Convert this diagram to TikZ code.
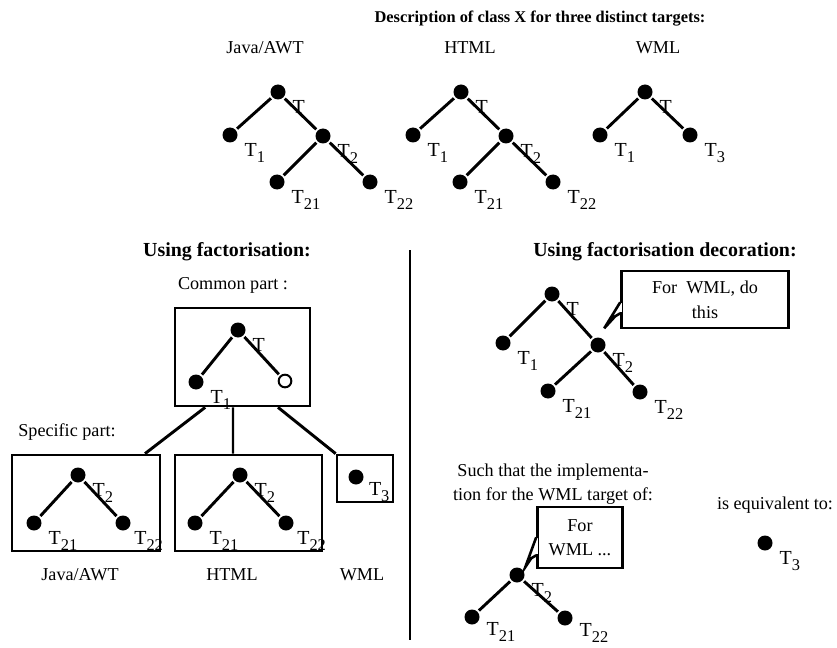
\documentclass[tikz,border=0pt]{standalone}
\usepackage{fontspec}
\setmainfont{Liberation Serif}
\usetikzlibrary{positioning,calc}

\newcommand{\Tsub}[1]{T\raisebox{-0.65ex}{\fontsize{14}{14}\selectfont #1}}

\tikzset{
	dot/.style={circle, fill=black, inner sep=0pt, minimum size=0.45cm},
	hole/.style={circle, draw, line width=1.7pt, fill=white, inner sep=0pt, minimum size=0.38cm},
	edge/.style={line width=2.5pt, shorten <=1.5pt, shorten >=1.5pt},
	lbl/.style={anchor=north west, inner sep=0pt, xshift=0.27cm, yshift=-0.08cm, font=\fontsize{17}{17}\selectfont},
	part/.style={draw, line width=2.3pt, inner sep=0pt},
	txt/.style={font=\fontsize{15.5}{21}\selectfont, align=center},
	head/.style={font=\fontsize{17}{20}\selectfont\bfseries},
	note/.style={draw, line width=2.2pt, fill=white, align=center, inner sep=0pt, font=\fontsize{15.5}{21}\selectfont}
}

\begin{document}
\begin{tikzpicture}[x=0.03cm, y=-0.03cm]
	\useasboundingbox (0,0) rectangle (837,648);

	% titre
	\node[font=\fontsize{14}{16}\selectfont\bfseries] (title) at (540,19) {Description of class X for three distinct targets:};
	\node[txt] (tjava) at (265,48) {Java/AWT};
	\node[txt] (thtml) at (470,48) {HTML};
	\node[txt] (twml) at (658,48) {WML};

	% les deux arbres complets
	\foreach \n/\dx in {j/0, h/183} {
		\node[dot, label={[lbl]south east:T}] (\n a) at (278+\dx,92) {};
		\node[dot, label={[lbl]south east:\Tsub{1}}] (\n a1) at (230+\dx,135) {};
		\node[dot, label={[lbl]south east:\Tsub{2}}] (\n a2) at (323+\dx,136) {};
		\node[dot, label={[lbl]south east:\Tsub{21}}] (\n a21) at (277+\dx,182) {};
		\node[dot, label={[lbl]south east:\Tsub{22}}] (\n a22) at (370+\dx,182) {};
		\draw[edge] (\n a) -- (\n a1);
		\draw[edge] (\n a) -- (\n a2);
		\draw[edge] (\n a2) -- (\n a21);
		\draw[edge] (\n a2) -- (\n a22);
	}

	% WML
	\node[dot, label={[lbl]south east:T}] (wa) at (645,92) {};
	\node[dot, label={[lbl]south east:\Tsub{1}}] (wa1) at (600,135) {};
	\node[dot, label={[lbl]south east:\Tsub{3}}] (wa3) at (690,135) {};
	\draw[edge] (wa) -- (wa1);
	\draw[edge] (wa) -- (wa3);

	% separation
	\draw[line width=2.3pt] (410,250) -- (410,640);

	% factorisation
	\node[head] (hfact) at (227,252) {Using factorisation:};
	\node[txt] (tcommon) at (233,285) {Common part :};
	\node[part, minimum width=4.05cm, minimum height=2.94cm] (common) at (242.5,357) {};
	\node[dot, label={[lbl]south east:T}] (cr) at (238,330) {};
	\node[dot, label={[lbl]south east:\Tsub{1}}] (c1) at (196,382) {};
	\node[hole] (copen) at (285,381) {};
	\draw[edge] (cr) -- (c1);
	\draw[edge] (cr) -- (copen);

	\node[txt] (tspec) at (67,432) {Specific part:};
	\node[part, minimum width=4.44cm, minimum height=2.88cm] (jbox) at (86,503) {};
	\node[part, minimum width=4.41cm, minimum height=2.88cm] (hbox) at (248.5,503) {};
	\node[part, minimum width=1.68cm, minimum height=1.41cm] (wbox) at (365,478.5) {};

	\draw[line width=2.5pt] ([xshift=-1.12cm]common.south) -- ([xshift=1.77cm]jbox.north);
	\draw[line width=2pt] ([xshift=-0.285cm]common.south) -- ([xshift=-0.465cm]hbox.north);
	\draw[line width=2.5pt] ([xshift=1.065cm]common.south) -- (wbox.north west);

	\node[dot, label={[lbl]south east:\Tsub{2}}] (jr) at (78,475) {};
	\node[dot, label={[lbl]south east:\Tsub{21}}] (j21) at (34,523) {};
	\node[dot, label={[lbl, xshift=-0.1cm]south east:\Tsub{22}}] (j22) at (123,523) {};
	\draw[edge] (jr) -- (j21);
	\draw[edge] (jr) -- (j22);

	\node[dot, label={[lbl]south east:\Tsub{2}}] (hr) at (240,475) {};
	\node[dot, label={[lbl]south east:\Tsub{21}}] (h21) at (195,523) {};
	\node[dot, label={[lbl, xshift=-0.1cm]south east:\Tsub{22}}] (h22) at (286,523) {};
	\draw[edge] (hr) -- (h21);
	\draw[edge] (hr) -- (h22);

	\node[dot, label={[lbl, xshift=-0.05cm, yshift=0.1cm]south east:\Tsub{3}}] (w3) at (356,477) {};

	\node[txt] (bjava) at (80,575) {Java/AWT};
	\node[txt] (bhtml) at (232,575) {HTML};
	\node[txt] (bwml) at (362,575) {WML};

	% decoration
	\node[head] (hdeco) at (665,252) {Using factorisation decoration:};
	\node[dot, label={[lbl]south east:T}] (dr) at (552,294) {};
	\node[dot, label={[lbl]south east:\Tsub{1}}] (d1) at (503,343) {};
	\node[dot, label={[lbl]south east:\Tsub{2}}] (d2) at (598,345) {};
	\node[dot, label={[lbl]south east:\Tsub{21}}] (d21) at (548,391) {};
	\node[dot, label={[lbl]south east:\Tsub{22}}] (d22) at (640,392) {};
	\draw[edge] (dr) -- (d1);
	\draw[edge] (dr) -- (d2);
	\draw[edge] (d2) -- (d21);
	\draw[edge] (d2) -- (d22);

	\node[note, minimum width=5.01cm, minimum height=1.71cm] (note1) at (705,299.5) {For\ \ WML, do\\this};
	\coordinate (tip1) at ($(note1.south west)+(-16,-1)$);
	\draw[white, line width=2.6pt] ($(note1.south west)+(0,-26)$) -- ($(note1.south west)+(0,-17)$);
	\draw[line width=2.2pt, line join=miter] ($(note1.south west)+(0,-27)$) -- (tip1) -- ($(note1.south west)+(-5,-13)$) -- ($(note1.south west)+(0,-16)$);

	\node[txt] (tsuch) at (553,484) {Such that the implementa-\\tion for the WML target of:};
	\node[txt] (tequiv) at (775,505) {is equivalent to:};

	\node[dot, label={[lbl]south east:\Tsub{2}}] (br) at (517,575) {};
	\node[dot, label={[lbl, yshift=0.1cm]south east:\Tsub{21}}] (b21) at (472,617) {};
	\node[dot, label={[lbl, yshift=0.1cm]south east:\Tsub{22}}] (b22) at (565,618) {};
	\draw[edge] (br) -- (b21);
	\draw[edge] (br) -- (b22);

	\node[note, minimum width=2.55cm, minimum height=1.83cm] (note2) at (580,537.5) {For\\WML ...};
	\coordinate (tip2) at ($(note2.south west)+(-11,-2)$);
	\draw[white, line width=2.6pt] ($(note2.south west)+(0,-31)$) -- ($(note2.south west)+(0,-15)$);
	\draw[line width=2.2pt, line join=miter] ($(note2.south west)+(0,-32)$) -- (tip2) -- ($(note2.south west)+(-5,-11)$) -- ($(note2.south west)+(0,-14)$);

	\node[dot, label={[lbl]south east:\Tsub{3}}] (e3) at (765,543) {};
\end{tikzpicture}
\end{document}
